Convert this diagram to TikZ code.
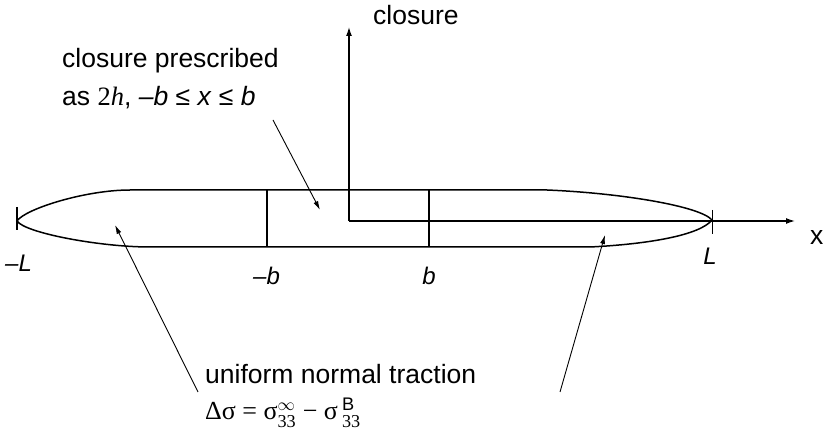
\documentclass[tikz,border=0pt]{standalone}
\usepackage{fontspec}
\usepackage{amsmath}
\setmainfont{Liberation Sans}
\newfontfamily\srf{Liberation Serif}
\newfontfamily\snf{Liberation Sans}
\usetikzlibrary{arrows.meta}
\begin{document}
\begin{tikzpicture}[x=1pt,y=-1pt,
  lens/.style={line width=1.5pt},
  ptr/.style={line width=0.9pt,-{Latex[length=9pt,width=5pt]}},
  axarrow/.style={line width=1.3pt,-{Latex[length=9pt,width=6pt]}},
  txt/.style={font=\fontsize{26.5}{32}\selectfont,inner sep=0pt},
  lbl/.style={font=\fontsize{24}{28}\selectfont\itshape,inner sep=0pt}]
\useasboundingbox (0,0) rectangle (823,438);
% lens
\draw[lens] (17,221) .. controls (25,209) and (85,190) .. (130,190) -- (547,190)
  .. controls (620,193) and (700,206) .. (712,220)
  .. controls (700,235) and (650,244) .. (590,247) -- (150,247)
  .. controls (100,247) and (25,233) .. (17,221) -- cycle;
\draw[lens] (17,207) -- (17,230);
\draw[line width=1pt] (712,210) -- (712,234);
\draw[lens] (267,190) -- (267,247);
\draw[lens] (429,190) -- (429,247);
% axes
\coordinate (O) at (349,221);
\coordinate (Ytip) at (349,27);
\coordinate (Xtip) at (795,221);
\draw[axarrow] (O) -- (Ytip);
\draw[axarrow] (O) -- (Xtip);
% texts
\node[txt,anchor=base west] (cp1) at (62,68) {closure prescribed};
\node[txt,anchor=base west] (cp2) at (62,106) {as {\srf 2\textit{h}}, \textit{–b} ≤ \textit{x} ≤ \textit{b}};
\node[txt,anchor=base west] (cl) at (373,25) {closure};
\node[txt,anchor=base west] (un) at (205,384) {uniform normal traction};
\node[anchor=base west,inner sep=0pt,font=\fontsize{26}{30}\selectfont\srf] (ds) at (205,420)
  {Δσ = σ$^{\infty}_{\text{33}}$ − σ$\,{}^{\text{\snf B}}_{\text{33}}$};
% pointers
\coordinate (p1s) at (273,120); \coordinate (p1e) at (320,210);
\coordinate (p2s) at (198,392); \coordinate (p2e) at (115,225);
\coordinate (p3s) at (560,392); \coordinate (p3e) at (605,235);
\draw[ptr] (p1s) -- (p1e);
\draw[ptr] (p2s) -- (p2e);
\draw[ptr] (p3s) -- (p3e);
% labels
\node[lbl,anchor=base west] (mL) at (5,272) {–L};
\node[lbl,anchor=base west] (mb) at (253,285) {–b};
\node[lbl,anchor=base] (pb) at (429,285) {b};
\node[lbl,anchor=base] (pL) at (710,265) {L};
\node[txt,anchor=base west] (xl) at (810,245) {x};
\end{tikzpicture}
\end{document}
